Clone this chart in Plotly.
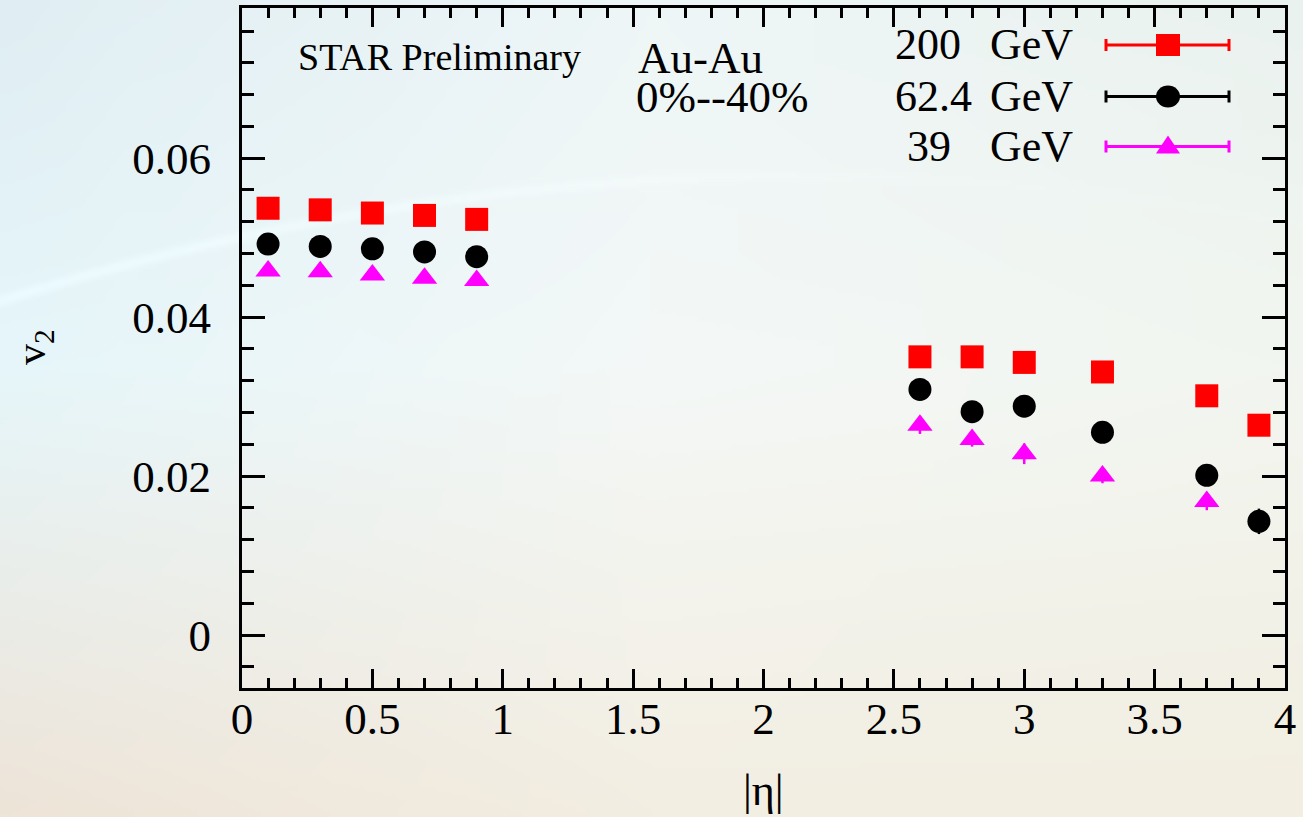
import base64
import struct
import zlib

import numpy as np
import plotly.graph_objects as go

# ---- data -----------------------------------------------------------------
eta_200 = [0.1, 0.3, 0.5, 0.7, 0.9, 2.6, 2.8, 3.0, 3.3, 3.7, 3.9]
v2_200 = [0.0537, 0.0535, 0.0531, 0.0528, 0.0523, 0.0350, 0.0350, 0.0343, 0.0331, 0.0301, 0.0264]
err_200 = [0.0003, 0.0003, 0.0003, 0.0003, 0.0003, 0.0004, 0.0004, 0.0004, 0.0005, 0.0006, 0.0008]

eta_624 = [0.1, 0.3, 0.5, 0.7, 0.9, 2.6, 2.8, 3.0, 3.3, 3.7, 3.9]
v2_624 = [0.0492, 0.0489, 0.0486, 0.0482, 0.0476, 0.0309, 0.0281, 0.0288, 0.0255, 0.0201, 0.0143]
err_624 = [0.0004, 0.0004, 0.0004, 0.0004, 0.0004, 0.0006, 0.0007, 0.0007, 0.0009, 0.0011, 0.0016]

eta_39 = [0.1, 0.3, 0.5, 0.7, 0.9, 2.6, 2.8, 3.0, 3.3, 3.7]
v2_39 = [0.0458, 0.0457, 0.0453, 0.0449, 0.0446, 0.0264, 0.0246, 0.0228, 0.0200, 0.0168]
err_39 = [0.0004, 0.0004, 0.0004, 0.0004, 0.0004, 0.0011, 0.0009, 0.0013, 0.0009, 0.0011]

x_ticks = [0, 0.5, 1, 1.5, 2, 2.5, 3, 3.5, 4]
x_ticktext = ["0", "0.5", "1", "1.5", "2", "2.5", "3", "3.5", "4"]
y_ticks = [0, 0.02, 0.04, 0.06]
y_ticktext = ["0", "0.02", "0.04", "0.06"]

series_names = ["200", "62.4", "39"]
series_colors = ["#ff0000", "#000000", "#ff00ff"]

# ---- page geometry (pixels) -------------------------------------------------
W, H = 1303, 817
PLOT_L, PLOT_R, PLOT_T, PLOT_B = 242, 1285, 8, 688
FONT = "Liberation Serif, Times New Roman, serif"


def px(x):
    return x / W


def py(y):
    return 1 - y / H


# ---- soft background wash ---------------------------------------------------
def background_png():
    w, h = 326, 205
    xs = np.linspace(0, 1, w)
    ys = np.linspace(0, 1, h)
    rows = np.array([0.0, 0.45, 1.0])
    left = np.array([[224, 238, 243], [230, 246, 250], [238, 228, 216]], float)
    mid = np.array([[238, 246, 247], [244, 248, 247], [243, 238, 226]], float)
    right = np.array([[234, 242, 239], [242, 246, 240], [242, 238, 225]], float)
    img = np.zeros((h, w, 3))
    for c in range(3):
        l_col = np.interp(ys, rows, left[:, c])
        m_col = np.interp(ys, rows, mid[:, c])
        r_col = np.interp(ys, rows, right[:, c])
        for j, fx in enumerate(xs):
            if fx < 0.5:
                t = fx / 0.5
                img[:, j, c] = l_col * (1 - t) + m_col * t
            else:
                t = (fx - 0.5) / 0.5
                img[:, j, c] = m_col * (1 - t) + r_col * t
    # faint light arc across the upper part of the page, fading to the right
    X, Y = np.meshgrid(xs * W, ys * H)
    arc_y = 175 + 0.000195 * (X - 800) ** 2
    fade = np.clip(1.2 - X / 900, 0.15, 1)
    band = np.exp(-((Y - arc_y) / 6.0) ** 2) * fade
    img = img + band[..., None] * 7
    img = np.clip(img, 0, 255).astype(np.uint8)

    raw = b"".join(b"\x00" + img[r].tobytes() for r in range(h))

    def chunk(tag, data):
        out = struct.pack(">I", len(data)) + tag + data
        return out + struct.pack(">I", zlib.crc32(tag + data) & 0xFFFFFFFF)

    png = (b"\x89PNG\r\n\x1a\n"
           + chunk(b"IHDR", struct.pack(">IIBBBBB", w, h, 8, 2, 0, 0, 0))
           + chunk(b"IDAT", zlib.compress(raw, 9))
           + chunk(b"IEND", b""))
    return "data:image/png;base64," + base64.b64encode(png).decode()


fig = go.Figure()

# ---- data points ------------------------------------------------------------
for xs_, ys_, es_, name, color, symbol, size in [
    (eta_200, v2_200, err_200, series_names[0], series_colors[0], "square", 23),
    (eta_624, v2_624, err_624, series_names[1], series_colors[1], "circle", 23),
    (eta_39, v2_39, err_39, series_names[2], series_colors[2], "triangle-up", 22),
]:
    fig.add_trace(go.Scatter(
        x=xs_, y=ys_, mode="markers", name=name + " GeV",
        marker=dict(symbol=symbol, size=size, color=color, line=dict(width=0)),
        error_y=dict(type="data", array=es_, visible=True, color=color,
                     thickness=2.5, width=0),
        showlegend=False,
    ))

# ---- axes ---------------------------------------------------------------------
axis_common = dict(
    showline=True, linecolor="black", linewidth=3, mirror="ticks",
    ticks="inside", tickcolor="black", tickwidth=2.5,
    showgrid=False, zeroline=False, automargin=False,
    tickfont=dict(family=FONT, size=45, color="black"),
)
fig.update_xaxes(
    domain=[px(PLOT_L), px(PLOT_R)], range=[0, 4],
    tickvals=x_ticks, ticktext=x_ticktext, ticklen=19,
    ticklabelstandoff=-11,
    minor=dict(dtick=0.1, tick0=0, ticks="inside", ticklen=10,
               tickwidth=2.5, tickcolor="black"),
    **axis_common,
)
fig.update_yaxes(
    domain=[py(PLOT_B), py(PLOT_T)], range=[-0.00667, 0.0789],
    tickvals=y_ticks, ticktext=y_ticktext, ticklen=23,
    ticklabelstandoff=19,
    minor=dict(dtick=0.004, tick0=0, ticks="inside", ticklen=12,
               tickwidth=2.5, tickcolor="black"),
    **axis_common,
)

# ---- text -------------------------------------------------------------------
annotations = [
    dict(x=px(763), y=py(790), text="|η|", font=dict(size=44)),
    dict(x=px(34), y=py(347), text="v<sub>2</sub>", textangle=-90, font=dict(size=42)),
    dict(x=px(296), y=py(57), text="STAR Preliminary", xanchor="left", font=dict(size=38)),
    dict(x=px(636), y=py(58), text="Au-Au", xanchor="left", font=dict(size=45)),
    dict(x=px(634), y=py(97), text="0%--40%", xanchor="left", font=dict(size=45)),
]
legend_rows = [45, 96.5, 146.5]
legend_num_x = [893, 893, 905]
for name, row, nx in zip(series_names, legend_rows, legend_num_x):
    annotations.append(dict(x=px(nx), y=py(row), text=name, xanchor="left", font=dict(size=44)))
    annotations.append(dict(x=px(988), y=py(row), text="GeV", xanchor="left", font=dict(size=44)))
for a in annotations:
    a.update(xref="paper", yref="paper", showarrow=False, yanchor="middle")
    a.setdefault("xanchor", "center")
    a["font"].update(family=FONT, color="black")

# ---- legend samples ---------------------------------------------------------
shapes = []
LX0, LX1, LXM = 1106, 1229, 1168
for row, color, symbol in zip(legend_rows, series_colors, ["square", "circle", "triangle"]):
    line = dict(color=color, width=3)
    shapes.append(dict(type="line", xref="paper", yref="paper", x0=px(LX0), x1=px(LX1),
                       y0=py(row), y1=py(row), line=line))
    for cx in (LX0, LX1):
        shapes.append(dict(type="line", xref="paper", yref="paper", x0=px(cx), x1=px(cx),
                           y0=py(row - 6), y1=py(row + 6), line=line))
    if symbol == "square":
        shapes.append(dict(type="rect", xref="paper", yref="paper",
                           x0=px(LXM - 12), x1=px(LXM + 12), y0=py(row - 11), y1=py(row + 11),
                           fillcolor=color, line=dict(width=0)))
    elif symbol == "circle":
        shapes.append(dict(type="circle", xref="paper", yref="paper",
                           x0=px(LXM - 12), x1=px(LXM + 12), y0=py(row - 11), y1=py(row + 11),
                           fillcolor=color, line=dict(width=0)))
    else:
        path = "M {} {} L {} {} L {} {} Z".format(
            px(LXM - 12), py(row + 7), px(LXM + 12), py(row + 7), px(LXM), py(row - 11))
        shapes.append(dict(type="path", xref="paper", yref="paper", path=path,
                           fillcolor=color, line=dict(width=0)))

fig.update_layout(
    template="none",
    width=W, height=H,
    margin=dict(l=0, r=0, t=0, b=0, pad=0),
    paper_bgcolor="white",
    plot_bgcolor="rgba(0,0,0,0)",
    showlegend=False,
    annotations=annotations,
    shapes=shapes,
    images=[dict(source=background_png(), xref="paper", yref="paper",
                 x=0, y=1, sizex=1, sizey=1, sizing="stretch",
                 xanchor="left", yanchor="top", layer="below")],
)

fig.write_html("out.html")
